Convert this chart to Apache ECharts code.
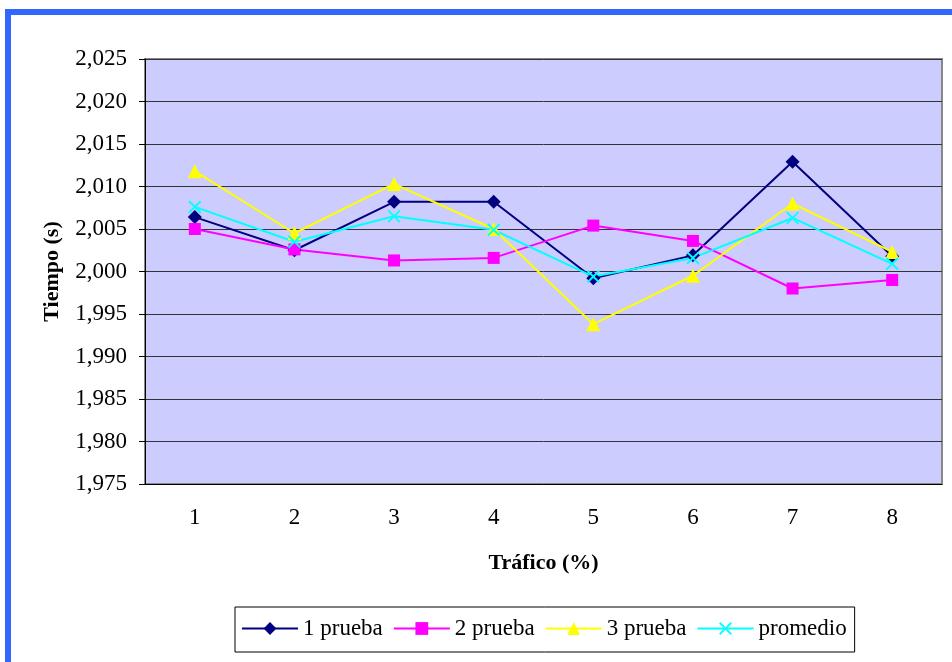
<!DOCTYPE html>
<html>
<head>
<meta charset="utf-8">
<script src="https://cdn.jsdelivr.net/npm/echarts@6/dist/echarts.min.js"></script>
<style>
  html, body { margin: 0; padding: 0; background: #fff; }
  #main { width: 952px; height: 662px; }
</style>
</head>
<body>
<div id="main"></div>
<script>
// datos
var categorias = ['1', '2', '3', '4', '5', '6', '7', '8'];
var prueba1 = [2.0064, 2.0025, 2.0082, 2.0082, 1.9992, 2.0019, 2.0129, 2.0018];
var prueba2 = [2.0050, 2.0026, 2.0013, 2.0016, 2.0054, 2.0036, 1.9980, 1.9990];
var prueba3 = [2.0118, 2.0045, 2.0103, 2.0050, 1.9938, 1.9995, 2.0080, 2.0023];
var promedio = [2.0076, 2.0035, 2.0065, 2.0049, 1.9994, 2.0016, 2.0063, 2.0009];

var fuente = '"Liberation Serif", "Times New Roman", serif';
var cruz = 'path://M0,1 L1,0 L5,4 L9,0 L10,1 L6,5 L10,9 L9,10 L5,6 L1,10 L0,9 L4,5 Z';

var myChart = echarts.init(document.getElementById('main'));

function serie(nombre, datos, color, simbolo, tam) {
    return {
        name: nombre,
        type: 'line',
        data: datos,
        symbol: simbolo,
        symbolSize: tam,
        showAllSymbol: true,
        lineStyle: { color: color, width: 2 },
        itemStyle: { color: color },
        emphasis: { disabled: true },
        animation: false
    };
}

var option = {
    animation: false,
    graphic: [
        { type: 'rect', shape: { x: 5, y: 9, width: 947, height: 6 }, style: { fill: '#3366ff' } },
        { type: 'rect', shape: { x: 5, y: 9, width: 6, height: 653 }, style: { fill: '#3366ff' } }
    ],
    grid: {
        left: 145, top: 59, right: 10, bottom: 178,
        show: true,
        backgroundColor: '#ccccff',
        borderColor: '#888888',
        borderWidth: 2
    },
    legend: {
        left: 235, top: 607,
        padding: [10, 8, 12, 6],
        itemGap: 10,
        itemWidth: 56,
        itemHeight: 16,
        borderColor: '#000',
        borderWidth: 1,
        textStyle: { fontFamily: fuente, fontSize: 23, color: '#000' },
        data: ['1 prueba', '2 prueba', '3 prueba', 'promedio']
    },
    xAxis: {
        type: 'category',
        data: categorias,
        boundaryGap: true,
        name: 'Tráfico (%)',
        nameLocation: 'middle',
        nameGap: 68,
        nameTextStyle: { fontFamily: fuente, fontSize: 22, fontWeight: 'bold', color: '#000' },
        axisLine: { lineStyle: { color: '#000', width: 1 } },
        axisTick: { length: 6, lineStyle: { color: '#000' } },
        axisLabel: { margin: 22, fontFamily: fuente, fontSize: 23, color: '#000' },
        splitLine: { show: false }
    },
    yAxis: {
        type: 'value',
        min: 1.975,
        max: 2.025,
        interval: 0.005,
        name: 'Tiempo (s)',
        nameLocation: 'middle',
        nameGap: 82,
        nameTextStyle: { fontFamily: fuente, fontSize: 22, fontWeight: 'bold', color: '#000' },
        axisLine: { show: true, lineStyle: { color: '#000', width: 1 } },
        axisTick: { show: true, length: 6, lineStyle: { color: '#000' } },
        axisLabel: {
            margin: 18,
            fontFamily: fuente, fontSize: 23, color: '#000',
            formatter: function (v) { return v.toFixed(3).replace('.', ','); }
        },
        splitLine: { lineStyle: { color: '#333', width: 1 } }
    },
    series: [
        serie('1 prueba', prueba1, '#000080', 'diamond', 14),
        serie('2 prueba', prueba2, '#ff00ff', 'rect', 12),
        serie('3 prueba', prueba3, '#ffff00', 'triangle', 14),
        serie('promedio', promedio, '#00ffff', cruz, 13)
    ]
};
myChart.setOption(option);
</script>
</body>
</html>
